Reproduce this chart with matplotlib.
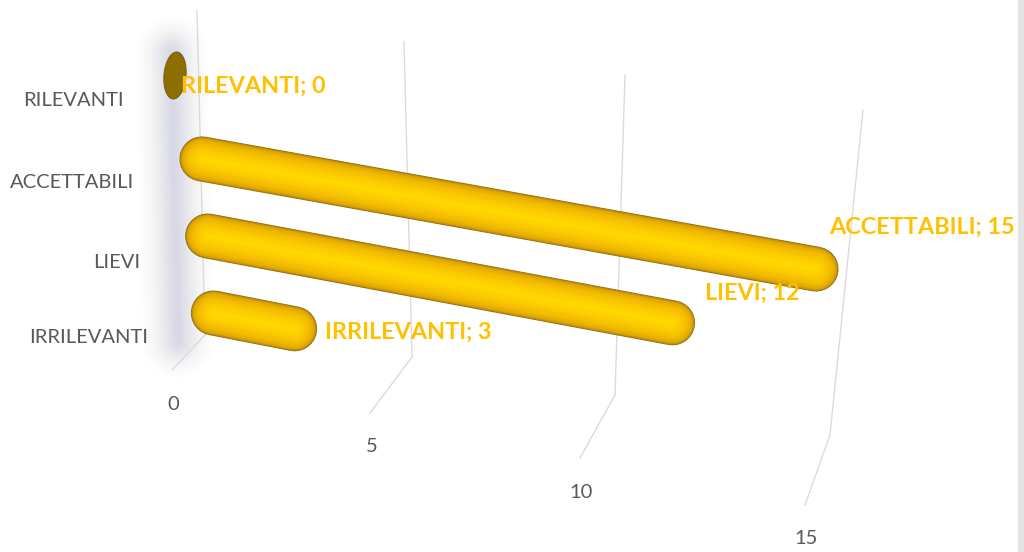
import numpy as np
import matplotlib
matplotlib.use('Agg')
import matplotlib.pyplot as plt
from matplotlib.colors import to_rgb
from matplotlib.patches import Ellipse, Rectangle
from matplotlib.transforms import Transform

# datos del grafico
categorias = ['RILEVANTI', 'ACCETTABILI', 'LIEVI', 'IRRILEVANTI']
valores = [0, 15, 12, 3]
ticks = [0, 5, 10, 15]

# posiciones de los textos (pixeles)
pos_categorias = [(124, 100.5), (134, 182.5), (140, 262.5), (148, 337.5)]
pos_etiquetas = [(181, 86.5), (829, 227), (705, 293.5), (325, 332)]


class Plano(Transform):
    """Vista 3D: (valor, t) -> pixeles, entre dos bordes medidos."""
    input_dims = 2
    output_dims = 2
    is_separable = False

    def __init__(self, marcas, borde_a, borde_b):
        super().__init__()
        self.marcas = marcas
        self.a = np.array(borde_a, float)
        self.b = np.array(borde_b, float)

    def transform_non_affine(self, values):
        values = np.asarray(values, float)
        u, t = values[:, 0], values[:, 1]
        salida = []
        for k in range(2):
            pa = np.interp(u, self.marcas, self.a[:, k])
            pb = np.interp(u, self.marcas, self.b[:, k])
            salida.append(pa + (pb - pa) * t)
        return np.column_stack(salida)


# planos de la vista 3D
plano_barras = Plano([0, 15], [(180, 155), (838, 273)], [(193, 309), (803, 428)])
borde_alto = [(197, 10), (404, 42), (625, 75), (863, 110)]
borde_medio = [(205, 335), (412, 357), (615, 395), (830, 435)]
borde_frente = [(172, 370), (370, 413), (580, 458), (805, 505)]
plano_pared = Plano(ticks, borde_alto, borde_medio)
plano_suelo = Plano(ticks, borde_medio, borde_frente)

fig = plt.figure(figsize=(10.24, 5.52), dpi=100)
ax = fig.add_axes([0, 0, 1, 1])
ax.set_xlim(0, 1024)
ax.set_ylim(552, 0)
ax.axis('off')
plt.rcParams['font.family'] = ['Lato', 'DejaVu Sans']


def fila_a_plano(fila):
    # la fila 1 es el borde a y la fila 3 el borde b
    return (fila - 1) / 2


# sombra sobre la pared
for w, a in zip(np.linspace(52, 4, 24), np.linspace(0.004, 0.018, 24)):
    ax.plot([172, 175, 178], [52, 200, 342], color='#8f8fb0', lw=w, alpha=a,
            solid_capstyle='round', zorder=1)

# rejilla: pared y suelo
gris = '#d9dbdd'
for t in ticks:
    ax.plot([t, t], [0, 1], color=gris, lw=1, transform=plano_pared + ax.transData, zorder=2)
    ax.plot([t, t], [0, 1], color=gris, lw=1, transform=plano_suelo + ax.transData, zorder=2)
    xt, yt = plano_suelo.transform_non_affine(np.array([[t, 1.0]]))[0]
    ax.text(xt + 1.5, yt + 34, str(t), fontsize=14.5, color='#595959', ha='center', va='center')

# barras cilindricas: muchos trazos superpuestos para el degradado
grosor = 45 * 72 / 100
f_ctrl = [1.0, 0.96, 0.88, 0.65, 0.3, 0.0]
c_ctrl = np.array([to_rgb(c) for c in ['#8c6a1e', '#bd8f08', '#e0a900', '#f5bd00', '#fdcf00', '#ffda00']])
margen = 0.5
for i, (cat, val) in enumerate(zip(categorias, valores)):
    t = fila_a_plano(i)
    if val == 0:
        cx, cy = plano_barras.transform_non_affine(np.array([[val, t]]))[0]
        ax.add_patch(Ellipse((cx + 1.5, cy - 2.5), 22, 47, angle=5, facecolor='#8d6e00',
                             edgecolor='#7a6010', lw=0.8, zorder=4))
    else:
        for f in np.linspace(1.0, 0.06, 40):
            c = [np.interp(-f, -np.array(f_ctrl), c_ctrl[:, k]) for k in range(3)]
            ax.plot([margen, val - margen], [t, t], color=c, lw=grosor * f,
                    solid_capstyle='round', transform=plano_barras + ax.transData, zorder=4)

# textos
for cat, (x, y) in zip(categorias, pos_categorias):
    ax.text(x, y, cat, fontsize=14.5, color='#595959', ha='right', va='center')
for cat, val, (x, y) in zip(categorias, valores, pos_etiquetas):
    ax.text(x, y, f'{cat}; {val}', fontsize=16.8, fontweight='bold', color='#ffc000',
            ha='left', va='center', zorder=6)

# franja gris del borde derecho
ax.add_patch(Rectangle((1018, 0), 6, 552, facecolor='#e4e4e4', edgecolor='none', zorder=7))

fig.savefig('out.png', dpi=100)
